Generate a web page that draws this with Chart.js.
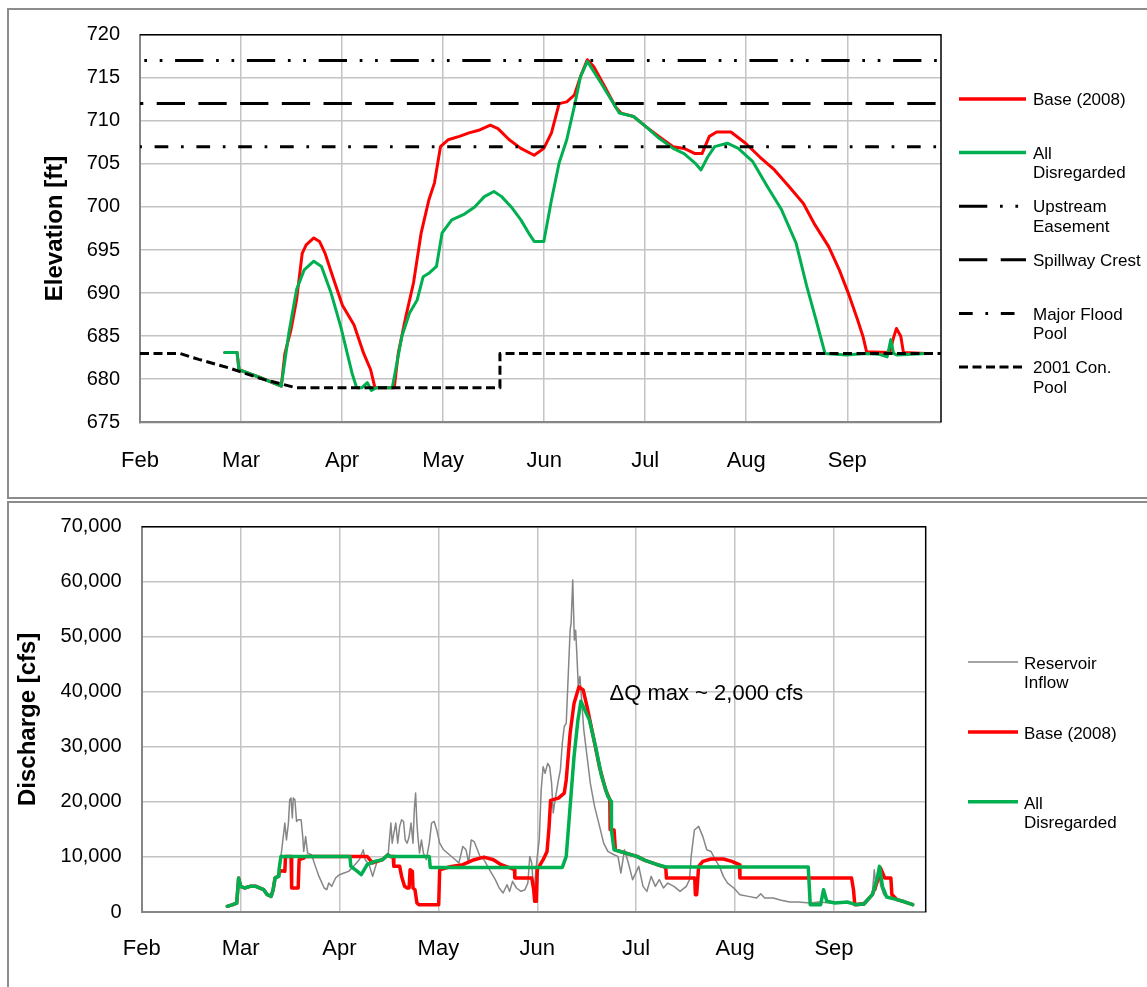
<!DOCTYPE html>
<html>
<head>
<meta charset="utf-8">
<script src="https://cdn.jsdelivr.net/npm/chart.js@4/dist/chart.umd.min.js"></script>
<style>
  body { margin: 0; background: #fff; width: 1147px; height: 987px; overflow: hidden; position: relative; }
  .panel { position: absolute; left: 7px; width: 1200px; border: 2px solid #8c8c8c; }
  #p1 { top: 8px; height: 487px; }
  #p2 { top: 501px; height: 520px; }
  canvas { position: absolute; left: 0; }
  #elev { top: 0; }
  #flow { top: 500px; }
</style>
</head>
<body>
<div class="panel" id="p1"></div>
<div class="panel" id="p2"></div>
<canvas id="elev" width="1147" height="497"></canvas>
<canvas id="flow" width="1147" height="487"></canvas>
<script>
// x values are days counted from Feb 1; the month ticks sit every 30.4 days
const monthLabels = ['Feb', 'Mar', 'Apr', 'May', 'Jun', 'Jul', 'Aug', 'Sep'];
const monthTicks = [0, 30.4, 60.8, 91.2, 121.6, 152, 182.4, 212.8];
const dayMax = 241;

// ---- elevation [ft] ----
const baseElev = [
  [25.5,683.1],[29.2,683.1],[29.8,681.1],[36.1,680.2],[42.5,679.2],[43.6,683.0],[45.4,685.7],
  [47.1,689.2],[48.8,694.6],[50.0,695.6],[52.3,696.4],[54.0,696.0],[55.7,694.6],[58.0,691.9],
  [60.9,688.6],[64.4,686.3],[67.3,683.0],[69.4,681.1],[70.7,679.0],[76.5,679.0],[77.7,683.0],
  [80.0,687.3],[82.3,691.2],[84.6,697.0],[86.9,700.8],[88.6,702.8],[90.4,707.0],[92.7,707.8],
  [96.1,708.2],[99.0,708.6],[101.9,708.9],[105.4,709.5],[107.7,709.1],[111.1,707.8],[114.6,706.8],
  [118.6,706.0],[121.5,706.8],[123.8,708.6],[126.1,712.0],[128.4,712.2],[130.7,713.0],[132.5,715.1],
  [134.6,717.1],[136.5,716.3],[139.8,714.0],[143.1,711.6],[144.7,710.9],[148.5,710.5],[152.3,709.3],
  [156.1,708.2],[160.4,707.0],[163.7,706.8],[167.0,706.2],[169.1,706.2],[171.3,708.2],[173.5,708.7],
  [177.8,708.7],[182.2,707.4],[186.5,705.8],[190.9,704.3],[195.2,702.4],[199.6,700.4],[202.8,698.1],
  [207.2,695.4],[210.4,692.7],[213.1,690.0],[215.9,686.9],[217.5,685.0],[218.6,683.2],[225.6,683.1],
  [226.7,684.8],[227.6,685.9],[228.9,685.0],[229.7,683.1],[236.5,683.0]
];
const allDisElev = [
  [25.5,683.1],[29.2,683.1],[29.8,681.1],[36.1,680.2],[42.5,679.2],[44.8,685.4],[47.1,690.4],
  [49.4,692.7],[52.3,693.7],[54.6,693.1],[57.5,690.0],[60.4,686.1],[62.1,683.4],[63.8,680.7],
  [65.2,679.0],[66.7,679.0],[68.4,679.6],[69.6,678.7],[71.0,679.0],[75.9,679.0],[78.8,685.0],
  [81.1,687.7],[83.4,689.2],[85.2,691.9],[86.9,692.3],[89.2,693.1],[90.9,697.0],[93.8,698.5],
  [97.3,699.1],[100.7,700.0],[103.6,701.2],[106.5,701.8],[108.8,701.2],[111.7,700.0],[114.6,698.5],
  [116.9,697.0],[118.6,696.0],[121.5,696.0],[123.8,700.8],[126.1,705.1],[128.4,707.8],[130.7,711.7],
  [132.5,715.1],[134.6,716.9],[138.7,714.4],[143.1,711.6],[144.2,710.9],[148.5,710.5],[152.3,709.3],
  [156.1,708.0],[160.4,706.8],[163.7,706.2],[167.0,705.1],[168.8,704.3],[170.8,705.8],[172.9,707.0],
  [176.7,707.4],[180.0,706.8],[184.3,705.3],[188.7,702.4],[193.0,699.7],[197.4,695.8],[200.6,690.8],
  [203.4,686.9],[206.1,683.0],[212.6,682.8],[218.0,683.0],[222.4,682.9],[224.8,682.6],[225.9,684.6],
  [226.7,683.0],[227.8,682.8],[236.5,683.0]
];
const conPool2001 = [
  [0,683.0],[11.9,683.0],[17.7,682.3],[26.9,681.3],[36.1,680.1],[43.0,679.4],[47.1,679.0],
  [108.3,679.0],[108.3,683.0],[dayMax,683.0]
];
const upstreamEasement = 717;
const spillwayCrest = 712;
const majorFloodPool = 707;

// ---- discharge [cfs] ----
const inflowQ = [
  [26.3,1030],[28.0,1330],[29.2,1630],[29.8,6170],[30.4,4660],[31.6,4360],[33.3,4660],[35.1,4660],
  [37.5,4050],[38.6,3150],[39.8,2840],[40.4,4050],[41.0,6170],[41.9,6470],[42.8,10100],[43.4,13100],
  [44.0,16150],[44.5,13100],[45.1,16150],[45.5,20400],[45.9,20700],[46.3,17100],[46.6,20700],
  [47.1,20400],[47.6,16450],[48.1,16760],[49.0,16760],[49.5,13700],[49.8,11000],[50.4,13700],
  [51.0,10700],[52.2,10400],[53.4,8290],[54.5,6470],[56.1,4360],[56.9,4050],[57.5,5260],[58.4,4660],
  [59.6,6170],[60.8,6780],[62.2,7080],[63.6,7380],[65.1,8290],[66.9,9500],[68.1,11300],[68.7,9500],
  [69.9,8590],[71.0,6470],[72.2,8900],[74.0,9500],[75.7,10100],[76.6,16150],[77.0,12500],
  [77.5,14300],[78.1,16150],[78.7,12500],[79.3,15550],[79.9,16760],[80.5,16450],[81.0,13100],
  [81.6,12500],[82.2,13700],[82.8,16150],[83.4,12500],[83.8,18600],[84.2,21600],[84.6,16150],
  [84.9,13700],[85.4,10700],[86.0,13100],[86.6,10700],[87.5,9500],[88.4,12500],[89.1,16150],
  [89.9,16450],[90.7,14900],[91.6,12500],[92.8,11300],[94.6,10400],[96.4,9500],[97.5,8900],
  [98.7,11900],[99.7,11300],[100.5,8900],[101.3,13100],[102.2,12800],[103.2,11300],[104.0,10100],
  [105.2,9500],[106.9,7680],[108.7,5870],[109.9,4360],[111.1,3450],[112.3,4960],[113.1,3750],
  [114.0,5570],[115.2,4360],[116.6,3750],[117.8,4050],[118.7,5260],[119.3,10100],[119.9,8900],
  [120.5,3450],[121.1,7080],[121.6,10100],[122.2,13100],[122.8,22200],[123.4,26400],[124.0,25200],
  [124.8,27000],[125.4,26400],[126.0,23400],[126.5,18000],[127.1,20400],[128.1,24000],[128.7,25800],
  [129.3,30700],[129.9,33700],[130.5,34300],[131.1,42800],[131.7,51200],[132.0,52500],[132.5,60300],
  [133.0,49400],[133.4,51200],[133.8,46400],[134.2,41000],[134.7,42800],[135.3,37900],[135.9,33100],
  [136.9,28250],[137.9,23400],[139.2,19200],[140.5,16150],[142.0,12500],[143.3,11000],[145.2,10400],
  [146.4,10100],[147.3,7080],[148.4,11300],[149.6,8900],[150.9,5870],[152.8,8290],[154.1,4660],
  [155.3,3750],[156.6,6470],[157.9,4660],[159.1,5870],[160.4,4360],[161.7,5260],[163.6,4660],
  [165.5,3750],[167.4,4660],[168.4,5870],[168.9,10100],[169.9,14900],[171.2,15550],[172.5,13700],
  [173.7,11300],[175.0,11000],[176.3,9500],[177.6,8290],[178.8,6470],[180.1,5260],[182.0,4360],
  [183.9,3150],[186.5,2840],[189.0,2540],[190.3,3330],[191.5,2540],[194.1,2540],[196.6,2120],
  [199.2,1810],[201.7,1810],[205.5,1630],[208.0,1810],[211.8,1630],[215.7,1630],[219.5,1510],
  [222.0,1750],[223.9,2540],[224.6,3450],[225.2,7680],[225.8,4050],[226.5,7680],[227.1,4960],
  [228.1,3150],[229.6,2540],[232.2,2120],[234.7,1750],[237.0,1330]
];
const baseQ = [
  [26.3,1030],[28.0,1330],[29.2,1630],[29.8,6170],[30.4,4660],[31.6,4360],[33.3,4660],[35.1,4660],
  [37.5,4050],[38.6,3150],[39.8,2840],[40.4,4050],[41.0,6170],[41.9,6470],[42.6,7500],[44.0,7400],
  [44.2,10100],[45.9,10100],[46.1,4360],[48.1,4360],[48.4,9500],[49.8,9800],[50.4,10100],[69.3,10100],
  [71.0,8900],[72.2,9200],[74.0,9500],[75.7,10400],[76.3,10100],[77.3,10100],[77.5,8290],[79.3,8290],
  [79.9,6470],[80.8,4660],[81.6,4360],[82.2,4360],[82.5,7680],[83.2,7380],[83.4,4360],[84.0,4050],
  [84.6,1630],[85.2,1330],[91.3,1330],[91.6,7680],[93.4,7990],[95.2,8290],[98.7,8590],[102.2,9500],
  [105.2,9980],[108.1,9500],[110.5,8590],[112.8,8100],[114.6,7680],[114.7,6170],[119.9,6170],
  [120.5,4050],[120.8,1940],[121.3,1940],[121.6,7680],[122.2,8290],[123.4,9500],[124.6,11000],
  [125.2,15250],[125.7,20270],[128.1,20700],[129.9,21600],[130.5,24000],[131.7,32500],[132.9,37900],
  [134.4,40900],[135.7,40350],[136.9,37300],[138.8,31900],[140.7,26400],[142.6,22200],[143.9,20400],
  [144.0,15000],[145.2,14900],[145.6,11300],[147.1,11000],[152.2,10100],[154.7,9380],[158.5,8590],
  [161.1,8100],[161.3,6170],[170.0,6170],[170.2,3150],[170.6,3150],[171.2,8290],[172.5,9200],
  [175.0,9620],[178.8,9620],[181.4,9200],[183.7,8590],[183.9,6170],[218.2,6170],[218.8,4050],
  [219.2,1330],[222.0,1450],[224.6,3150],[226.5,6170],[227.1,7990],[228.4,6170],[230.3,6170],
  [230.6,3150],[231.2,2840],[232.2,2240],[234.7,1810],[237.0,1330]
];
const allDisQ = [
  [26.3,1030],[28.0,1330],[29.2,1630],[29.8,6170],[30.4,4660],[31.6,4360],[33.3,4660],[35.1,4660],
  [37.5,4050],[38.6,3150],[39.8,2840],[40.4,4050],[41.0,6170],[41.9,6470],[42.2,7680],[42.8,10100],
  [64.0,10100],[64.3,8290],[66.3,7380],[67.5,6780],[69.3,8590],[71.6,9200],[74.0,9500],[75.7,10400],
  [76.3,10100],[88.4,10100],[88.7,8100],[129.3,8100],[130.5,10100],[131.7,19200],[132.9,28250],
  [134.1,34900],[135.0,38300],[137.6,34900],[139.5,30100],[141.4,24600],[143.3,21000],[144.3,20100],
  [144.4,14900],[145.2,11300],[147.1,11000],[152.2,10100],[154.7,9380],[158.5,8590],[161.1,8170],
  [204.9,8170],[205.5,1330],[208.7,1330],[209.6,4050],[210.6,1940],[213.1,1630],[216.9,1810],
  [219.5,1330],[222.0,1450],[224.6,3150],[226.1,6170],[226.8,8290],[227.7,4660],[229.0,2720],
  [232.2,2240],[234.7,1810],[237.0,1330]
];

const noteText = 'ΔQ max ~ 2,000 cfs';
const noteAt = [143.8, 39600];

const elevLegend = [
  ['Base (2008)'], ['All', 'Disregarded'], ['Upstream', 'Easement'],
  ['Spillway Crest'], ['Major Flood', 'Pool'], ['2001 Con.', 'Pool']
];
const flowLegend = [['Reservoir', 'Inflow'], ['Base (2008)'], ['All', 'Disregarded']];

// ---- styles ----
const RED = '#ff0000', GREEN = '#00b050', GREY = '#868686', BLACK = '#000000';
const FONT = "'Liberation Sans', Arial, Helvetica, sans-serif";
Chart.defaults.font.family = FONT;
Chart.defaults.color = '#000';

const dashUpstream = [28.3, 12.7, 2.7, 12.7, 2.7, 12.7];
const dashSpillway = [28.3, 13.4];
const dashMajor = [13.7, 12.7, 2.7, 12.7];
const dashPool = [9, 4.5];

const toXY = pts => pts.map(p => ({ x: p[0], y: p[1] }));
const flat = v => [{ x: 0, y: v }, { x: dayMax, y: v }];

function series(label, data, color, width, order, dash, dashOffset) {
  return {
    label: label, data: data, borderColor: color, borderWidth: width, order: order,
    borderDash: dash || [], borderDashOffset: dashOffset || 0,
    pointRadius: 0, tension: 0, fill: false,
    borderJoinStyle: 'round', borderCapStyle: dash ? 'butt' : 'round'
  };
}

function xAxis(height, labelPad) {
  return {
    type: 'linear', min: 0, max: dayMax,
    afterBuildTicks: s => { s.ticks = monthTicks.map(v => ({ value: v })); },
    afterFit: s => { s.height = height; },
    ticks: { callback: (v, i) => monthLabels[i], font: { size: 22 }, padding: labelPad, maxRotation: 0 },
    grid: { color: '#c4c4c4', lineWidth: 1.5, drawTicks: false },
    border: { color: '#868686', width: 2 }
  };
}

// fixed-width y axis; drop the label overhang so the plot top stays where padding puts it
function fixY(width) {
  return s => { s.width = width; s.paddingTop = 0; s.paddingBottom = 0; };
}

const framePlugin = {
  id: 'frame',
  beforeDatasetsDraw(chart) {
    const a = chart.chartArea, ctx = chart.ctx;
    ctx.save();
    ctx.strokeStyle = '#000';
    ctx.lineWidth = 1.5;
    ctx.beginPath();
    ctx.moveTo(a.left, a.top);
    ctx.lineTo(a.right, a.top);
    ctx.lineTo(a.right, a.bottom);
    ctx.stroke();
    ctx.restore();
  }
};

const sideLegend = {
  id: 'sideLegend',
  afterDraw(chart, args, o) {
    if (!o.items) return;
    const ctx = chart.ctx;
    ctx.save();
    ctx.font = '17px ' + FONT;
    ctx.textBaseline = 'middle';
    ctx.fillStyle = '#000';
    o.items.forEach((it, i) => {
      const y = o.top + i * o.step;
      ctx.strokeStyle = it.color;
      ctx.lineWidth = it.width;
      ctx.setLineDash(it.dash || []);
      ctx.beginPath();
      ctx.moveTo(o.x1, y);
      ctx.lineTo(o.x2, y);
      ctx.stroke();
      ctx.setLineDash([]);
      it.lines.forEach((t, k) => ctx.fillText(t, o.textX, y + o.textDy + k * o.lineGap));
    });
    ctx.restore();
  }
};

const notePlugin = {
  id: 'note',
  afterDatasetsDraw(chart, args, o) {
    if (!o.text) return;
    const ctx = chart.ctx;
    ctx.save();
    ctx.font = '22px ' + FONT;
    ctx.textBaseline = 'middle';
    ctx.textAlign = 'left';
    ctx.fillStyle = '#000';
    ctx.fillText(o.text, chart.scales.x.getPixelForValue(o.at[0]), chart.scales.y.getPixelForValue(o.at[1]));
    ctx.restore();
  }
};

// ---- top chart: elevation ----
new Chart(document.getElementById('elev'), {
  type: 'line',
  data: {
    datasets: [
      series('Base (2008)', toXY(baseElev), RED, 3, 3),
      series('All Disregarded', toXY(allDisElev), GREEN, 3, 2),
      series('Upstream Easement', flat(upstreamEasement), BLACK, 3, 1, dashUpstream, 36.7),
      series('Spillway Crest', flat(spillwayCrest), BLACK, 3, 1, dashSpillway, 25),
      series('Major Flood Pool', flat(majorFloodPool), BLACK, 3, 1, dashMajor, 27.2),
      series('2001 Con. Pool', toXY(conPool2001), BLACK, 3, 1, dashPool, 0)
    ]
  },
  options: {
    responsive: false, animation: false, devicePixelRatio: 1,
    layout: { padding: { left: 0, top: 34.7, right: 206, bottom: 0 } },
    scales: {
      x: xAxis(74.7, 25.5),
      y: {
        min: 675, max: 720,
        afterFit: fixY(140),
        ticks: { stepSize: 5, font: { size: 20 }, padding: 20 },
        grid: { color: '#c4c4c4', lineWidth: 1.5, drawTicks: false },
        border: { color: '#868686', width: 2 },
        title: { display: true, text: 'Elevation [ft]', font: { size: 24, weight: 'bold' }, padding: { top: 40.6, bottom: 0 } }
      }
    },
    plugins: {
      legend: { display: false },
      tooltip: { enabled: false },
      sideLegend: {
        x1: 959, x2: 1026, textX: 1033, top: 99, step: 53.6, textDy: 1.5, lineGap: 19.5,
        items: [
          { lines: elevLegend[0], color: RED, width: 3.5 },
          { lines: elevLegend[1], color: GREEN, width: 3.5 },
          { lines: elevLegend[2], color: BLACK, width: 3, dash: dashUpstream },
          { lines: elevLegend[3], color: BLACK, width: 3, dash: dashSpillway },
          { lines: elevLegend[4], color: BLACK, width: 3, dash: dashMajor },
          { lines: elevLegend[5], color: BLACK, width: 3, dash: dashPool }
        ]
      }
    }
  },
  plugins: [framePlugin, sideLegend]
});

// ---- bottom chart: discharge ----
new Chart(document.getElementById('flow'), {
  type: 'line',
  data: {
    datasets: [
      series('Reservoir Inflow', toXY(inflowQ), GREY, 1.5, 3),
      series('Base (2008)', toXY(baseQ), RED, 3.5, 2),
      series('All Disregarded', toXY(allDisQ), GREEN, 3.5, 1)
    ]
  },
  options: {
    responsive: false, animation: false, devicePixelRatio: 1,
    layout: { padding: { left: 0, top: 26.7, right: 221.3, bottom: 0 } },
    scales: {
      x: xAxis(75, 23.5),
      y: {
        min: 0, max: 70000,
        afterFit: fixY(141.7),
        ticks: { stepSize: 10000, font: { size: 20 }, padding: 20, callback: v => v.toLocaleString('en-US') },
        grid: { color: '#c4c4c4', lineWidth: 1.5, drawTicks: false },
        border: { color: '#868686', width: 2 },
        title: { display: true, text: 'Discharge [cfs]', font: { size: 24, weight: 'bold' }, padding: { top: 14.3, bottom: 0 } }
      }
    },
    plugins: {
      legend: { display: false },
      tooltip: { enabled: false },
      note: { text: noteText, at: noteAt },
      sideLegend: {
        x1: 968, x2: 1018, textX: 1024, top: 162, step: 69.9, textDy: 2.5, lineGap: 19,
        items: [
          { lines: flowLegend[0], color: GREY, width: 1.5 },
          { lines: flowLegend[1], color: RED, width: 3.5 },
          { lines: flowLegend[2], color: GREEN, width: 3.5 }
        ]
      }
    }
  },
  plugins: [framePlugin, sideLegend, notePlugin]
});
</script>
</body>
</html>
